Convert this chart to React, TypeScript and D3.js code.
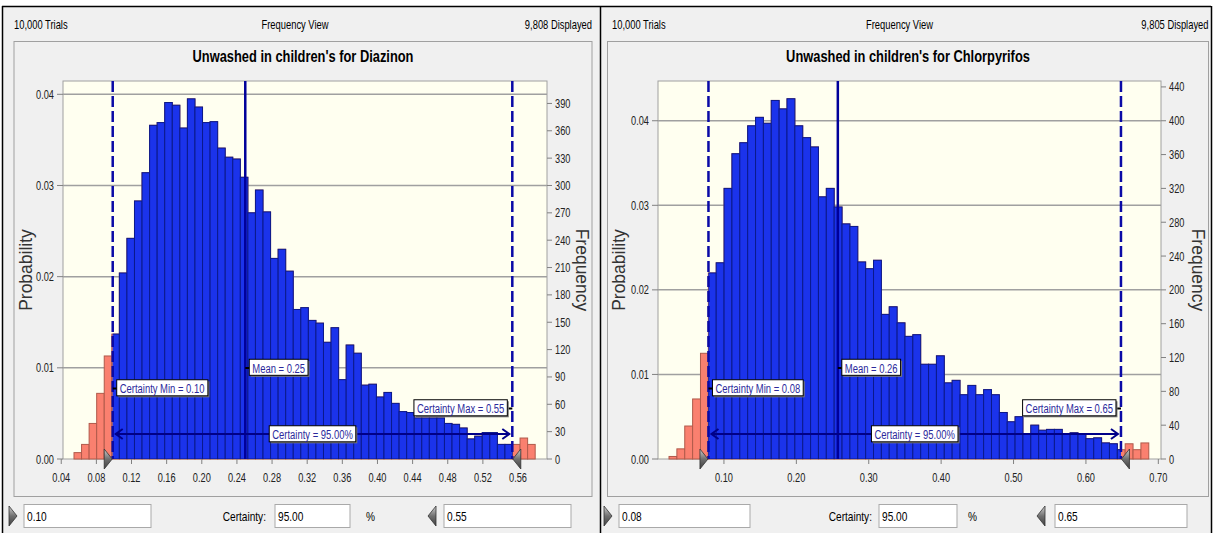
import React, { useEffect, useRef } from 'react';
import * as d3 from 'd3';

// probability per bin (61 bins each)
const diazinonProb = [
  0.0007, 0.0016, 0.0039, 0.0072, 0.0113, 0.0137, 0.0204, 0.0242, 0.0283, 0.0314,
  0.0366, 0.0369, 0.0391, 0.0388, 0.0363, 0.0395, 0.0386, 0.0369, 0.037, 0.0341,
  0.0331, 0.0329, 0.0309, 0.027, 0.0295, 0.0271, 0.022, 0.023, 0.0206, 0.0164,
  0.0166, 0.0152, 0.0149, 0.0128, 0.0144, 0.0087, 0.0125, 0.0116, 0.0081, 0.0082,
  0.0068, 0.0073, 0.0061, 0.0052, 0.0051, 0.0045, 0.0045, 0.0045, 0.0045, 0.0039,
  0.0038, 0.0034, 0.0022, 0.0025, 0.0029, 0.0029, 0.0016, 0.0016, 0.0016, 0.0023,
  0.0016,
];
const chlorpyrifosProb = [
  0.0003, 0.0012, 0.0039, 0.0071, 0.0125, 0.022, 0.0232, 0.032, 0.0361, 0.0374,
  0.0394, 0.0404, 0.0397, 0.0424, 0.0414, 0.0426, 0.0394, 0.038, 0.0369, 0.031,
  0.032, 0.0298, 0.0278, 0.0275, 0.0233, 0.0225, 0.0235, 0.0171, 0.018, 0.0161,
  0.0145, 0.0147, 0.0112, 0.0112, 0.0122, 0.009, 0.0093, 0.0076, 0.0087, 0.0076,
  0.0082, 0.0076, 0.0055, 0.0044, 0.005, 0.003, 0.004, 0.0034, 0.0035, 0.0035,
  0.003, 0.0031, 0.003, 0.0024, 0.0025, 0.0019, 0.0018, 0.0011, 0.0018, 0.0011,
  0.0019,
];

const diazinonXTicks = [0.04, 0.08, 0.12, 0.16, 0.2, 0.24, 0.28, 0.32, 0.36, 0.4, 0.44, 0.48, 0.52, 0.56];
const chlorpyrifosXTicks = [0.1, 0.2, 0.3, 0.4, 0.5, 0.6, 0.7];
const probTicks = [0, 0.01, 0.02, 0.03, 0.04];
const diazinonFreqTicks = [0, 30, 60, 90, 120, 150, 180, 210, 240, 270, 300, 330, 360, 390];
const chlorpyrifosFreqTicks = [0, 40, 80, 120, 160, 200, 240, 280, 320, 360, 400, 440];

// certainty min / mean / certainty max (values and their shown labels)
const diazinonStats = [0.0986, 0.2495, 0.5535];
const diazinonStatLabels = ['0.10', '0.25', '0.55'];
const chlorpyrifosStats = [0.0786, 0.2573, 0.6484];
const chlorpyrifosStatLabels = ['0.08', '0.26', '0.65'];

const TRIALS = 10000;
const SANS = "'Liberation Sans', Arial, sans-serif";
const SQUEEZE = 0.75; // the app uses a condensed face, so squeeze Liberation Sans
const TAG_SQUEEZE = 0.7;
const NAVY = '#0a0aa6';

const panels = [
  {
    id: 'dz',
    title: "Unwashed in children's for Diazinon",
    displayed: '9,808 Displayed',
    probs: diazinonProb,
    binStart: 0.05452,
    binWidth: 0.008607,
    xDomain: [0.042, 0.593],
    yTop: 0.04146,
    xTicks: diazinonXTicks,
    freqTicks: diazinonFreqTicks,
    stats: diazinonStats,
    statLabels: diazinonStatLabels,
    outer: [2, 600],
    frame: [14, 592],
    plot: { left: 63, right: 547, top: 81, bottom: 459 },
    probLabelX: 27,
    freqLabelX: 581,
    ctrl: { tri1: 9, in1: [24, 151], certEnd: 266, in2: [275, 350], pct: 366, tri2: 428, in3: [444, 571] },
  },
  {
    id: 'cp',
    title: "Unwashed in children's for Chlorpyrifos",
    displayed: '9,805 Displayed',
    probs: chlorpyrifosProb,
    binStart: 0.02412,
    binWidth: 0.010864,
    xDomain: [0.0089, 0.7037],
    yTop: 0.0447,
    xTicks: chlorpyrifosXTicks,
    freqTicks: chlorpyrifosFreqTicks,
    stats: chlorpyrifosStats,
    statLabels: chlorpyrifosStatLabels,
    outer: [600, 1211],
    frame: [607.5, 1208.5],
    plot: { left: 658, right: 1161, top: 81, bottom: 459 },
    probLabelX: 620,
    freqLabelX: 1197,
    ctrl: { tri1: 604, in1: [619, 750], certEnd: 872, in2: [879, 957], pct: 968, tri2: 1037, in3: [1055, 1187] },
  },
];

function NText({ x, y, children, anchor = 'start', size = 12, weight = 'normal', fill = '#000', sx = SQUEEZE }) {
  return (
    <text
      transform={`translate(${x},${y}) scale(${sx},1)`}
      textAnchor={anchor}
      fontFamily={SANS}
      fontSize={size}
      fontWeight={weight}
      fill={fill}
    >
      {children}
    </text>
  );
}

function Tag({ x, y, text, anchor, tickFrom }) {
  // white box with a short black connector to its line; rects sized after mount
  return (
    <g>
      {tickFrom !== undefined && (
        <line x1={tickFrom} x2={x} y1={y} y2={y} stroke="#000" strokeWidth={2} />
      )}
      <g className="tag" transform={`translate(${x},${y})`}>
        <rect className="shadow" fill="#7a7a7a" />
        <rect className="box" fill="#fff" stroke="#000" strokeWidth={1} />
        <text transform={`translate(0,4.5) scale(${TAG_SQUEEZE},1)`} textAnchor={anchor} fontFamily={SANS} fontSize={13.5} fill="#2c2a9c">
          {text}
        </text>
      </g>
    </g>
  );
}

function Triangle({ x, y, dir }) {
  const pts = dir === 'right'
    ? [[x, y - 10], [x, y + 10], [x + 8, y]]
    : [[x + 8, y - 10], [x + 8, y + 10], [x, y]];
  return <polygon points={pts.map((p) => p.join(',')).join(' ')} fill="url(#triGrad)" stroke="#333" strokeWidth={0.8} />;
}

function Panel({ cfg }) {
  const { plot } = cfg;
  const x = d3.scaleLinear().domain(cfg.xDomain).range([plot.left, plot.right]);
  const y = d3.scaleLinear().domain([0, cfg.yTop]).range([plot.bottom, plot.top]);
  const yF = d3.scaleLinear().domain([0, cfg.yTop * TRIALS]).range([plot.bottom, plot.top]);
  const fmt = d3.format('.2f');
  const bins = cfg.probs.map((p, i) => ({
    x0: cfg.binStart + i * cfg.binWidth,
    x1: cfg.binStart + (i + 1) * cfg.binWidth,
    p,
  }));
  const [cMin, mean, cMax] = cfg.stats.map((v) => x(v));
  const [lMin, lMean, lMax] = cfg.statLabels;
  const midX = (cfg.frame[0] + cfg.frame[1]) / 2;
  const headerMid = (cfg.outer[0] + cfg.outer[1]) / 2 - 6;
  const c = cfg.ctrl;
  const yMid = (plot.top + plot.bottom) / 2;

  const barRects = (fill, stroke) =>
    bins.map((b, i) => (
      <rect
        key={i}
        x={x(b.x0)}
        y={y(b.p)}
        width={x(b.x1) - x(b.x0)}
        height={y(0) - y(b.p)}
        fill={fill}
        stroke={stroke}
        strokeWidth={1}
      />
    ));

  const input = (r, text) => (
    <g>
      <rect x={r[0]} y={504.5} width={r[1] - r[0]} height={23} fill="#fff" stroke="#a9a9a9" />
      <NText x={r[0] + 3} y={521} size={13.5}>{text}</NText>
    </g>
  );

  return (
    <g>
      <rect x={cfg.outer[0]} y={6} width={cfg.outer[1] - cfg.outer[0]} height={527} fill="#f0f0f0" />
      <NText x={cfg.outer[0] + 12} y={29} size={12.5}>10,000 Trials</NText>
      <NText x={headerMid} y={29} anchor="middle" size={12.5}>Frequency View</NText>
      <NText x={cfg.frame[1]} y={29} anchor="end" size={12.5}>{cfg.displayed}</NText>

      <rect x={cfg.frame[0]} y={41.5} width={cfg.frame[1] - cfg.frame[0]} height={455} fill="none" stroke="#a0a0a0" />
      <NText x={midX} y={61.5} anchor="middle" size={16.5} weight="bold" sx={0.78}>
        {cfg.title}
      </NText>

      <rect x={plot.left} y={plot.top} width={plot.right - plot.left} height={plot.bottom - plot.top} fill="#fffff0" stroke="#a0a0a0" />
      {probTicks.filter((t) => t > 0).map((t) => (
        <line key={t} x1={plot.left} x2={plot.right} y1={y(t)} y2={y(t)} stroke="#a0a0a0" strokeWidth={1.5} />
      ))}

      <clipPath id={`in-${cfg.id}`}>
        <rect x={cMin} y={plot.top} width={cMax - cMin} height={plot.bottom - plot.top} />
      </clipPath>
      <g>{barRects('#fa806f', '#b05a4b')}</g>
      <g clipPath={`url(#in-${cfg.id})`}>{barRects('#1b33eb', '#0b1a8c')}</g>

      {/* left axis: probability */}
      {probTicks.map((t) => (
        <g key={t}>
          <line x1={plot.left - 6} x2={plot.left} y1={y(t)} y2={y(t)} stroke="#808080" />
          <NText x={plot.left - 9} y={y(t) + 4.5} anchor="end" size={13} sx={0.71} fill="#222">
            {fmt(t)}
          </NText>
        </g>
      ))}
      {/* right axis: frequency */}
      {cfg.freqTicks.map((t) => (
        <g key={t}>
          <line x1={plot.right} x2={plot.right + 5} y1={yF(t)} y2={yF(t)} stroke="#808080" />
          <NText x={plot.right + 8} y={yF(t) + 4.5} size={13} sx={0.71} fill="#222">
            {t}
          </NText>
        </g>
      ))}
      {/* bottom axis */}
      {cfg.xTicks.map((t) => (
        <g key={t}>
          <line x1={x(t)} x2={x(t)} y1={plot.bottom} y2={plot.bottom + 5} stroke="#808080" />
          <NText x={x(t)} y={481.5} anchor="middle" size={13} sx={0.71} fill="#222">
            {fmt(t)}
          </NText>
        </g>
      ))}

      <text
        transform={`translate(${cfg.probLabelX},${yMid}) rotate(-90)`}
        textAnchor="middle"
        dominantBaseline="middle"
        fontFamily={SANS}
        fontSize={17.5}
        fill="#333"
      >
        Probability
      </text>
      <text
        transform={`translate(${cfg.freqLabelX},${yMid}) rotate(90)`}
        textAnchor="middle"
        dominantBaseline="middle"
        fontFamily={SANS}
        fontSize={17.5}
        fill="#333"
      >
        Frequency
      </text>

      {/* certainty and mean lines */}
      <line x1={cMin} x2={cMin} y1={plot.top} y2={plot.bottom} stroke={NAVY} strokeWidth={2.5} strokeDasharray="11,4" />
      <line x1={cMax} x2={cMax} y1={plot.top} y2={plot.bottom} stroke={NAVY} strokeWidth={2.5} strokeDasharray="11,4" />
      <line x1={mean} x2={mean} y1={plot.top} y2={plot.bottom} stroke="#00009a" strokeWidth={2.5} />

      {/* certainty range arrow */}
      <line x1={cMin + 3} x2={cMax - 3} y1={434} y2={434} stroke="#000088" strokeWidth={2} />
      <polyline points={`${cMin + 10},429 ${cMin + 3},434 ${cMin + 10},439`} fill="none" stroke="#000088" strokeWidth={2} />
      <polyline points={`${cMax - 10},429 ${cMax - 3},434 ${cMax - 10},439`} fill="none" stroke="#000088" strokeWidth={2} />

      <Tag x={mean + 7} y={368} text={`Mean = ${lMean}`} anchor="start" tickFrom={mean} />
      <Tag x={cMin + 7} y={388.5} text={`Certainty Min = ${lMin}`} anchor="start" tickFrom={cMin} />
      <Tag x={cMax - 8} y={408.5} text={`Certainty Max = ${lMax}`} anchor="end" tickFrom={cMax} />
      <Tag x={(cMin + cMax) / 2} y={434.5} text="Certainty = 95.00%" anchor="middle" />

      <Triangle x={cMin - 8.5} y={459} dir="right" />
      <Triangle x={cMax + 0.5} y={459} dir="left" />

      {/* controls row */}
      <Triangle x={c.tri1} y={516} dir="right" />
      {input(c.in1, lMin)}
      <NText x={c.certEnd} y={521} anchor="end" size={13.5}>Certainty:</NText>
      {input(c.in2, '95.00')}
      <NText x={c.pct} y={521} size={13.5}>%</NText>
      <Triangle x={c.tri2} y={516} dir="left" />
      {input(c.in3, lMax)}
    </g>
  );
}

export default function App() {
  const ref = useRef(null);

  useEffect(() => {
    const svg = d3.select(ref.current);
    svg.selectAll('g.tag').each(function () {
      const g = d3.select(this);
      const b = (g.select('text').node() as SVGTextElement).getBBox();
      const bx = b.x * TAG_SQUEEZE - 3;
      const by = b.y + 4.5 - 0.5;
      const bw = b.width * TAG_SQUEEZE + 6;
      const bh = b.height + 1;
      g.select('rect.box').attr('x', bx).attr('y', by).attr('width', bw).attr('height', bh);
      g.select('rect.shadow').attr('x', bx + 1.5).attr('y', by + 1.5).attr('width', bw).attr('height', bh);
    });
  }, []);

  return (
    <svg
      ref={ref}
      width={1213}
      height={533}
      style={{ position: 'absolute', left: 0, top: 0 }}
    >
      <defs>
        <linearGradient id="triGrad" x1="0" y1="0" x2="0" y2="1">
          <stop offset="0" stopColor="#d0d0d0" />
          <stop offset="0.5" stopColor="#707070" />
          <stop offset="1" stopColor="#404040" />
        </linearGradient>
      </defs>
      <rect width={1213} height={533} fill="#fff" />
      {panels.map((p) => (
        <Panel key={p.id} cfg={p} />
      ))}
      <line x1={2} x2={1211} y1={6.5} y2={6.5} stroke="#000" strokeWidth={1.5} />
      <line x1={2.5} x2={2.5} y1={6} y2={533} stroke="#000" strokeWidth={1.5} />
      <line x1={600.5} x2={600.5} y1={6} y2={533} stroke="#000" strokeWidth={1.5} />
      <line x1={1211.5} x2={1211.5} y1={6} y2={533} stroke="#000" strokeWidth={1.5} />
    </svg>
  );
}
